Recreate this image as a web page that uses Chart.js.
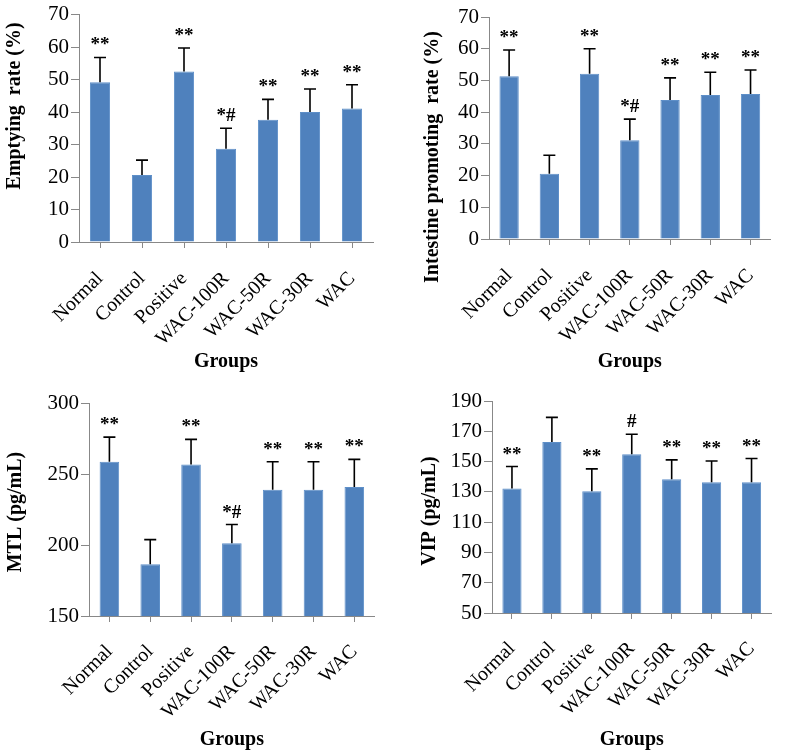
<!DOCTYPE html>
<html><head><meta charset="utf-8">
<script src="https://cdn.jsdelivr.net/npm/chart.js@4.4.1/dist/chart.umd.min.js"></script>
<style>
html,body{margin:0;padding:0;background:#fff;}
#wrap{position:relative;width:787px;height:751px;overflow:hidden;}
canvas{position:absolute;}
</style></head><body>
<div id="wrap">
<canvas id="c1" width="390" height="380" style="left:0;top:0"></canvas>
<canvas id="c2" width="397" height="380" style="left:390px;top:0"></canvas>
<canvas id="c3" width="390" height="371" style="left:0;top:380px"></canvas>
<canvas id="c4" width="397" height="371" style="left:390px;top:380px"></canvas>
</div>
<script>
// ---- data ----
const groups = ['Normal','Control','Positive','WAC-100R','WAC-50R','WAC-30R','WAC'];

const emptyingMean = [49.2, 20.6, 52.5, 28.7, 37.6, 40.0, 41.1];
const emptyingSD   = [7.6, 4.6, 7.2, 6.3, 6.3, 7.1, 7.3];
const emptyingTicks = [0, 10, 20, 30, 40, 50, 60, 70];

const intestineMean = [51.3, 20.6, 52.1, 31.1, 43.8, 45.4, 45.7];
const intestineSD   = [8.3, 5.8, 7.9, 6.7, 7.0, 7.2, 7.6];
const intestineTicks = [0, 10, 20, 30, 40, 50, 60, 70];

const mtlMean = [258.6, 186.4, 256.7, 201.3, 238.9, 238.9, 240.8];
const mtlSD   = [17.4, 17.4, 17.7, 13.1, 19.7, 19.7, 19.5];
const mtlTicks = [150, 200, 250, 300];

const vipMean = [132.2, 163.0, 130.4, 154.8, 138.4, 136.4, 136.4];
const vipSD   = [14.5, 16.2, 14.8, 13.2, 12.7, 14.0, 15.6];
const vipTicks = [50, 70, 90, 110, 130, 150, 170, 190];

const marksStd = ['**', '', '**', '*#', '**', '**', '**'];
const marksVip = ['**', '', '**', '#', '**', '**', '**'];

const yTitles = ['Emptying  rate (%)', 'Intestine promoting  rate (%)', 'MTL (pg/mL)', 'VIP (pg/mL)'];
const xTitle = 'Groups';

// ---- rendering ----
const SERIF = '"Liberation Serif", "Times New Roman", serif';
const BLUE = '#4F81BD';
const AXIS = '#888888';

const errPlugin = {
  id: 'errbars',
  afterDatasetsDraw(chart, args, o) {
    const ctx = chart.ctx;
    const meta = chart.getDatasetMeta(0);
    const ys = chart.scales.y;
    const vals = chart.data.datasets[0].data;
    ctx.save();
    ctx.strokeStyle = '#000';
    ctx.lineWidth = 1.6;
    meta.data.forEach((bar, i) => {
      const x = bar.x;
      const y0 = ys.getPixelForValue(vals[i]);
      const y1 = ys.getPixelForValue(vals[i] + o.sd[i]);
      ctx.beginPath();
      ctx.moveTo(x, y0); ctx.lineTo(x, y1);
      ctx.moveTo(x - 6, y1); ctx.lineTo(x + 6, y1);
      ctx.stroke();
      if (o.marks[i]) {
        ctx.fillStyle = '#000';
        ctx.font = 'bold 19px ' + SERIF;
        ctx.textAlign = 'center';
        ctx.textBaseline = 'alphabetic';
        ctx.fillText(o.marks[i], x, y1 - 7);
      }
    });
    // axis titles
    const ca = chart.chartArea;
    ctx.fillStyle = '#000';
    ctx.font = 'bold 20px ' + SERIF;
    ctx.textAlign = 'center';
    ctx.textBaseline = 'middle';
    ctx.fillText(o.xTitle, (ca.left + ca.right) / 2, o.xTitleY);
    ctx.translate(o.yTitleX, o.yTitleY);
    ctx.rotate(-Math.PI / 2);
    ctx.fillText(o.yTitle, 0, 0);
    ctx.restore();
  }
};

function makeChart(id, mean, sd, ticks, marks, yTitle, L) {
  const cv = document.getElementById(id);
  const W = cv.width, H = cv.height;
  new Chart(cv, {
    type: 'bar',
    data: {
      labels: groups,
      datasets: [{
        data: mean,
        backgroundColor: BLUE,
        borderColor: '#5E8FC8',
        borderWidth: 1,
        barPercentage: 0.48,
        categoryPercentage: 1
      }]
    },
    options: {
      responsive: false,
      animation: false,
      devicePixelRatio: 1,
      layout: { padding: { left: 0, top: L.top, right: W - L.right, bottom: 0 } },
      plugins: {
        legend: { display: false },
        tooltip: { enabled: false },
        errbars: { sd: sd, marks: marks, yTitle: yTitle, xTitle: xTitle,
                   yTitleX: L.ytx, yTitleY: L.yty, xTitleY: L.xty }
      },
      scales: {
        x: {
          offset: true,
          grid: { display: true, drawOnChartArea: false, drawTicks: true, tickLength: 6, offset: false, color: AXIS, lineWidth: 1 },
          border: { display: true, color: AXIS, width: 1 },
          ticks: { autoSkip: false, minRotation: 45, maxRotation: 45, color: '#000', padding: L.xpad,
                   font: { family: SERIF, size: 20 } },
          afterFit: s => { s.height = H - L.bottom; }
        },
        y: {
          min: ticks[0], max: ticks[ticks.length - 1],
          afterBuildTicks: s => { s.ticks = ticks.map(v => ({ value: v })); },
          grid: { display: true, drawOnChartArea: false, drawTicks: true, tickLength: 8, color: AXIS, lineWidth: 1 },
          border: { display: true, color: AXIS, width: 1 },
          ticks: { color: '#000', padding: 2, font: { family: SERIF, size: 21 } },
          afterFit: s => { s.width = L.left; }
        }
      }
    },
    plugins: [errPlugin]
  });
}

makeChart('c1', emptyingMean, emptyingSD, emptyingTicks, marksStd, yTitles[0],
  { left: 79, right: 373, top: 12, bottom: 242, ytx: 15, yty: 106, xty: 362, xpad: 19 });
makeChart('c2', intestineMean, intestineSD, intestineTicks, marksStd, yTitles[1],
  { left: 99, right: 390, top: 17, bottom: 239, ytx: 43, yty: 157, xty: 362, xpad: 19 });
makeChart('c3', mtlMean, mtlSD, mtlTicks, marksStd, yTitles[2],
  { left: 89, right: 380, top: 23, bottom: 236, ytx: 16, yty: 132, xty: 360, xpad: 18 });
makeChart('c4', vipMean, vipSD, vipTicks, marksVip, yTitles[3],
  { left: 102, right: 390, top: 21, bottom: 233, ytx: 40, yty: 131, xty: 360, xpad: 18 });
</script>
</body></html>
